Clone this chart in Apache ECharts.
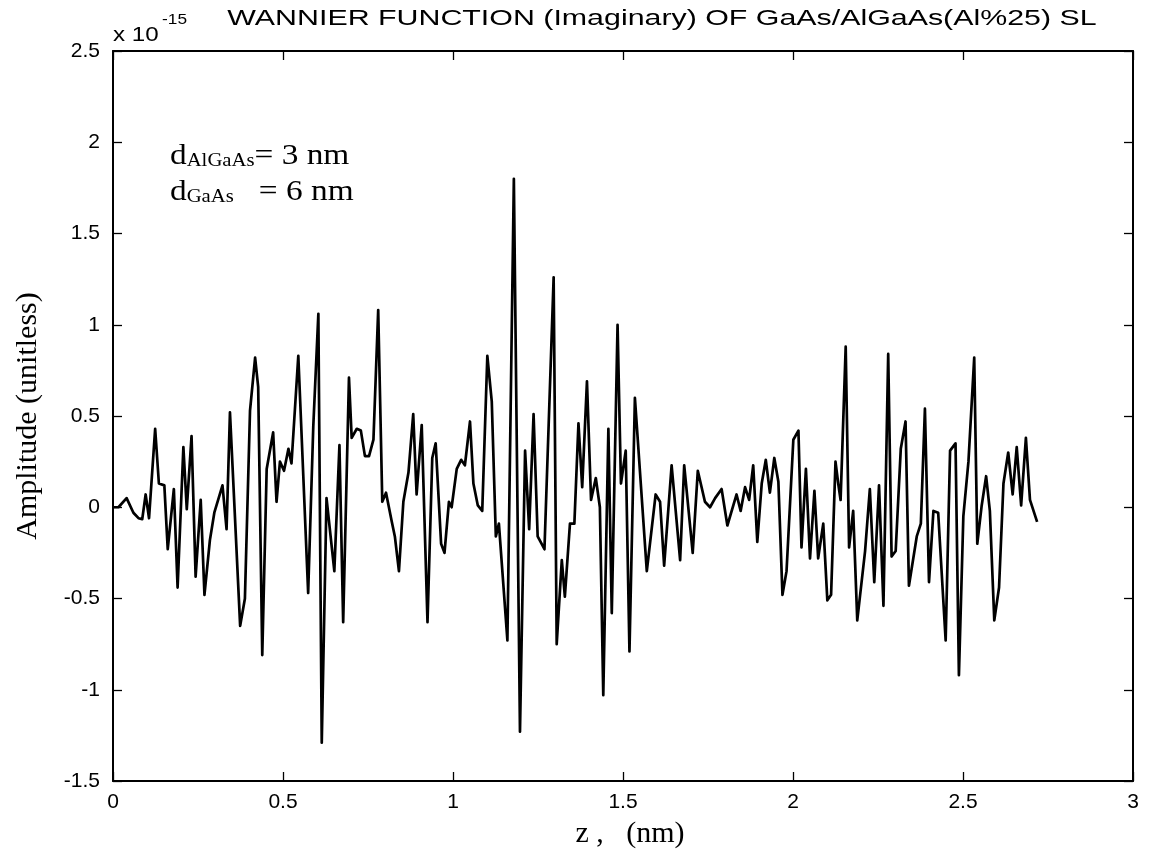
<!DOCTYPE html>
<html><head><meta charset="utf-8">
<script src="https://cdn.jsdelivr.net/npm/echarts@6/dist/echarts.min.js"></script>
<style>html,body{margin:0;padding:0;background:#fff}#c{width:1151px;height:854px}</style>
</head><body><div id="c"></div>
<script>
// z positions (nm)
const zValues = [
  0, 0.016, 0.040, 0.060, 0.075, 0.086, 0.096, 0.106, 0.124, 0.135, 0.151, 0.161, 0.179, 0.190, 0.207, 0.217, 0.231, 0.243, 0.258, 0.269, 0.285, 0.298, 0.322, 0.334,
  0.344, 0.374, 0.388, 0.403, 0.418, 0.427, 0.439, 0.452, 0.471, 0.481, 0.491, 0.503, 0.516, 0.525, 0.545, 0.574, 0.589, 0.604, 0.614, 0.628, 0.651, 0.666, 0.677, 0.694,
  0.702, 0.717, 0.729, 0.741, 0.753, 0.766, 0.780, 0.792, 0.803, 0.820, 0.829, 0.841, 0.854, 0.869, 0.883, 0.893, 0.908, 0.925, 0.939, 0.949, 0.965, 0.975, 0.988, 0.996, 1.011, 1.024, 1.035, 1.050,
  1.060, 1.073, 1.086, 1.101, 1.114, 1.126, 1.135, 1.160, 1.179, 1.197, 1.212, 1.224, 1.237, 1.249, 1.269, 1.296, 1.305, 1.320, 1.329, 1.344, 1.357, 1.369, 1.380, 1.394,
  1.406, 1.420, 1.432, 1.442, 1.457, 1.467, 1.484, 1.494, 1.508, 1.519, 1.535, 1.570, 1.596, 1.609, 1.621, 1.643, 1.668, 1.680, 1.705, 1.720, 1.741, 1.756,
  1.771, 1.790, 1.807, 1.834, 1.846, 1.859, 1.871, 1.883, 1.895, 1.908, 1.920, 1.932, 1.945, 1.957, 1.969, 1.981, 2.001, 2.016, 2.025, 2.038, 2.050, 2.063, 2.074, 2.089, 2.101,
  2.112, 2.125, 2.133, 2.140, 2.155, 2.165, 2.177, 2.189, 2.212, 2.226, 2.239, 2.253, 2.266, 2.280, 2.290, 2.302, 2.317, 2.331, 2.341, 2.364, 2.376, 2.388, 2.400, 2.413, 2.427, 2.449,
  2.462, 2.478, 2.488, 2.501, 2.516, 2.533, 2.542, 2.555, 2.568, 2.579, 2.592, 2.606, 2.619, 2.633, 2.646, 2.658, 2.671, 2.685, 2.697, 2.718
];
// amplitude (x 1e-15)
const amplitudeValues = [
  0.00, 0.00, 0.05, -0.03, -0.06, -0.065, 0.07, -0.06, 0.43, 0.13, 0.12, -0.23, 0.10, -0.44, 0.33, -0.01, 0.39, -0.38, 0.04, -0.48, -0.18, -0.03, 0.12, -0.12,
  0.52, -0.65, -0.50, 0.53, 0.82, 0.66, -0.81, 0.21, 0.41, 0.03, 0.25, 0.20, 0.32, 0.24, 0.83, -0.47, 0.44, 1.06, -1.29, 0.05, -0.35, 0.34, -0.63, 0.71,
  0.38, 0.43, 0.42, 0.28, 0.28, 0.37, 1.08, 0.03, 0.08, -0.08, -0.16, -0.35, 0.03, 0.19, 0.51, 0.07, 0.45, -0.63, 0.27, 0.35, -0.20, -0.25, 0.03, 0.00, 0.21, 0.26, 0.23, 0.47,
  0.13, 0.01, -0.02, 0.83, 0.58, -0.16, -0.09, -0.73, 1.80, -1.23, 0.31, -0.12, 0.51, -0.16, -0.23, 1.26, -0.75, -0.29, -0.49, -0.09, -0.09, 0.46, 0.11, 0.69,
  0.04, 0.16, 0.00, -1.03, 0.43, -0.58, 1.00, 0.13, 0.31, -0.79, 0.60, -0.35, 0.07, 0.03, -0.32, 0.23, -0.29, 0.23, -0.25, 0.20, 0.03, 0.00,
  0.05, 0.10, -0.10, 0.07, -0.02, 0.11, 0.04, 0.23, -0.19, 0.13, 0.26, 0.08, 0.27, 0.14, -0.48, -0.35, 0.37, 0.42, -0.22, 0.21, -0.28, 0.09, -0.28, -0.09, -0.51,
  -0.48, 0.25, 0.13, 0.04, 0.88, -0.22, -0.02, -0.62, -0.24, 0.10, -0.41, 0.12, -0.54, 0.84, -0.27, -0.24, 0.32, 0.47, -0.43, -0.16, -0.09, 0.54, -0.41, -0.02, -0.03, -0.73,
  0.31, 0.35, -0.92, -0.05, 0.25, 0.82, -0.20, 0.01, 0.17, -0.02, -0.62, -0.44, 0.13, 0.30, 0.07, 0.33, 0.01, 0.38, 0.04, -0.08
];
const xTickValues = [0, 0.5, 1, 1.5, 2, 2.5, 3];
const yTickValues = [-1.5, -1, -0.5, 0, 0.5, 1, 1.5, 2, 2.5];
const titleText = 'WANNIER FUNCTION (Imaginary) OF GaAs/AlGaAs(Al%25) SL';
const xAxisName = 'z ,   (nm)';
const yAxisName = 'Amplitude (unitless)';

const seriesData = zValues.map((z, i) => [z, amplitudeValues[i]]);
const sans = '"Liberation Sans", Arial, sans-serif';
const serif = '"Liberation Serif", "Times New Roman", serif';

const chart = echarts.init(document.getElementById('c'), null, {renderer: 'canvas'});
const baseX = {
  type: 'value', min: xTickValues[0], max: xTickValues[xTickValues.length - 1], interval: 0.5,
  splitLine: {show: false},
  axisLine: {show: true, onZero: false, lineStyle: {color: '#000', width: 2}},
  axisTick: {show: true, inside: true, length: 9, lineStyle: {color: '#000', width: 1.3}}
};
const baseY = {
  type: 'value', min: yTickValues[0], max: yTickValues[yTickValues.length - 1], interval: 0.5,
  splitLine: {show: false},
  axisLine: {show: true, onZero: false, lineStyle: {color: '#000', width: 2}},
  axisTick: {show: true, inside: true, length: 9, lineStyle: {color: '#000', width: 1.3}}
};
chart.setOption({
  animation: false,
  backgroundColor: '#fff',
  grid: {left: 113, right: 18, top: 51, bottom: 73, containLabel: false},
  xAxis: [
    Object.assign({}, baseX, {
      position: 'bottom',
      axisLabel: {color: '#000', fontSize: 21, fontFamily: sans, margin: 11},
      name: xAxisName, nameLocation: 'middle', nameGap: 38,
      nameTextStyle: {color: '#000', fontSize: 30, fontFamily: serif, padding: [0, 0, 0, 14]}
    }),
    Object.assign({}, baseX, {position: 'top', axisLabel: {show: false}})
  ],
  yAxis: [
    Object.assign({}, baseY, {
      position: 'left',
      axisLabel: {color: '#000', fontSize: 21, fontFamily: sans, margin: 13},
      name: yAxisName, nameLocation: 'middle', nameGap: 70,
      nameTextStyle: {color: '#000', fontSize: 30, fontFamily: serif}
    }),
    Object.assign({}, baseY, {position: 'right', axisLabel: {show: false}})
  ],
  series: [{
    type: 'line', xAxisIndex: 0, yAxisIndex: 0, data: seriesData,
    showSymbol: false, symbol: 'none',
    lineStyle: {color: '#000', width: 2.7, join: 'round'}
  }],
  graphic: [
    {type: 'text', x: 662, y: 19, scaleX: 1.38, style: {
      text: titleText, fill: '#000', font: '22px ' + sans, textAlign: 'center', textVerticalAlign: 'middle'}},
    {type: 'text', x: 113, y: 29, scaleX: 1.15, style: {
      text: '{a|x 10}{s|-15}', fill: '#000', textVerticalAlign: 'middle',
      rich: {a: {fontSize: 21, fontFamily: sans, color: '#000', padding: [12, 0, 0, 0]},
             s: {fontSize: 15, fontFamily: sans, color: '#000', verticalAlign: 'top', padding: [0, 0, 16, 3]}}}},
    {type: 'text', x: 170, y: 156, scaleX: 1.15, style: {
      text: '{d|d}{sub|AlGaAs}{d|= 3 nm}', fill: '#000', textVerticalAlign: 'middle',
      rich: {d: {fontSize: 29, fontFamily: serif, color: '#000'},
             sub: {fontSize: 18, fontFamily: serif, color: '#000', padding: [11, 0, 0, 0]}}}},
    {type: 'text', x: 170, y: 192, scaleX: 1.15, style: {
      text: '{d|d}{sub|GaAs}{d|   = 6 nm}', fill: '#000', textVerticalAlign: 'middle',
      rich: {d: {fontSize: 29, fontFamily: serif, color: '#000'},
             sub: {fontSize: 18, fontFamily: serif, color: '#000', padding: [11, 0, 0, 0]}}}}
  ]
});
</script></body></html>
